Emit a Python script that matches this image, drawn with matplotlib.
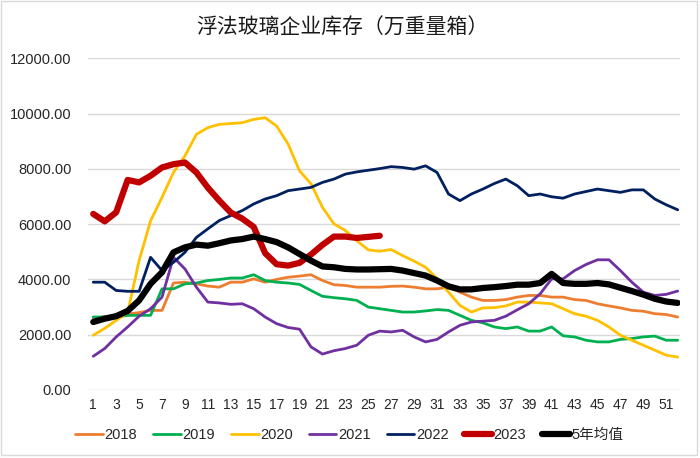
import numpy as np
import matplotlib
matplotlib.use('Agg')
import matplotlib.pyplot as plt
from matplotlib.patches import Rectangle

plt.rcParams['font.family'] = ['Liberation Sans', 'Noto Sans CJK SC', 'DejaVu Sans']

# 周次
weeks = np.arange(1, 53)

# 各年库存（万重量箱）
y2018 = [2600, 2650, 2700, 2750, 2800, 2880, 2880, 3870, 3900, 3840, 3760, 3720, 3900,
         3900, 4020, 3900, 4000, 4080, 4120, 4170, 3960, 3810, 3780, 3720, 3720, 3720,
         3750, 3760, 3720, 3660, 3660, 3720, 3540, 3360, 3240, 3240, 3270, 3360, 3420,
         3420, 3360, 3360, 3270, 3240, 3120, 3040, 2970, 2880, 2850, 2760, 2730, 2640]
y2019 = [2640, 2640, 2640, 2700, 2700, 2700, 3660, 3660, 3840, 3870, 3960, 4000, 4050,
         4050, 4170, 3960, 3900, 3870, 3820, 3600, 3390, 3340, 3300, 3240, 3000, 2940,
         2880, 2820, 2820, 2860, 2910, 2880, 2700, 2520, 2430, 2280, 2220, 2280, 2130,
         2130, 2280, 1960, 1920, 1800, 1740, 1740, 1830, 1860, 1920, 1950, 1800, 1800]
y2020 = [1980, 2230, 2520, 2800, 4680, 6120, 6970, 7870, 8470, 9250, 9490, 9610, 9640,
         9670, 9790, 9850, 9550, 8900, 7930, 7460, 6610, 6010, 5770, 5400, 5070, 5020,
         5080, 4860, 4660, 4440, 4030, 3540, 3060, 2820, 2970, 2980, 3040, 3180, 3180,
         3150, 3120, 2940, 2760, 2670, 2520, 2280, 1980, 1800, 1620, 1440, 1260, 1190]
y2021 = [1220, 1500, 1920, 2280, 2670, 2940, 3360, 4800, 4380, 3720, 3180, 3150, 3100,
         3120, 2940, 2640, 2400, 2260, 2200, 1560, 1300, 1420, 1500, 1620, 1980, 2130,
         2100, 2160, 1920, 1740, 1830, 2100, 2340, 2460, 2490, 2520, 2670, 2900, 3120,
         3480, 4020, 4020, 4320, 4540, 4710, 4710, 4320, 3900, 3540, 3420, 3460, 3580]
y2022 = [3900, 3900, 3600, 3570, 3570, 4800, 4320, 4620, 4980, 5520, 5830, 6130, 6310,
         6490, 6730, 6910, 7030, 7210, 7270, 7330, 7510, 7630, 7810, 7890, 7950, 8010,
         8080, 8050, 7990, 8110, 7870, 7090, 6850, 7090, 7270, 7470, 7630, 7390, 7030,
         7090, 6990, 6940, 7090, 7180, 7270, 7210, 7150, 7240, 7240, 6910, 6700, 6520]
y2023 = [6370, 6100, 6430, 7600, 7510, 7750, 8050, 8170, 8230, 7870, 7320, 6850, 6420,
         6200, 5900, 4950, 4550, 4500, 4600, 4900, 5250, 5550, 5550, 5500, 5540, 5580]
avg5 = [2460, 2580, 2670, 2860, 3240, 3840, 4260, 4980, 5160, 5260, 5220, 5310, 5410,
        5460, 5550, 5460, 5350, 5160, 4920, 4680, 4470, 4440, 4380, 4360, 4360, 4370,
        4380, 4320, 4230, 4140, 3960, 3750, 3640, 3640, 3690, 3720, 3760, 3810, 3810,
        3870, 4200, 3870, 3840, 3840, 3870, 3820, 3700, 3580, 3450, 3300, 3200, 3150]

series = [
    ('2018', y2018, '#ED7D31', 2.0),
    ('2019', y2019, '#00B050', 2.0),
    ('2020', y2020, '#FFC000', 2.0),
    ('2021', y2021, '#7030A0', 2.0),
    ('2022', y2022, '#002060', 2.0),
    ('2023', y2023, '#C00000', 4.5),
    ('5年均值', avg5, '#000000', 4.5),
]

fig = plt.figure(figsize=(7, 4.58), dpi=100)
ax = fig.add_axes([0.1257, 0.1485, 0.9714 - 0.1257, 0.8727 - 0.1485])

for name, vals, col, lw in series:
    ax.plot(weeks[:len(vals)], vals, color=col, lw=lw, label=name,
            solid_joinstyle='round', solid_capstyle='round')

ax.set_ylim(0, 12000)
ax.set_yticks(np.arange(0, 12001, 2000))
ax.set_yticklabels(['%.2f' % v for v in np.arange(0, 12001, 2000)])
ax.set_xlim(0.54, 52.2)
ax.set_xticks(np.arange(1, 52, 2))
ax.grid(axis='y', color='#d9d9d9', lw=1)
ax.set_axisbelow(True)
for s in ax.spines.values():
    s.set_visible(False)
ax.tick_params(axis='y', length=0, pad=12, labelsize=10.5, labelcolor='#262626')
ax.tick_params(axis='x', length=0, pad=6, labelsize=10, labelcolor='#262626')

fig.text(0.489, 0.939, '浮法玻璃企业库存（万重量箱）', ha='center', va='center',
         fontsize=15, color='#1a1a1a', fontweight='medium', family=['Noto Sans CJK SC'])

leg = fig.legend(loc='center', bbox_to_anchor=(0.499, 0.05), ncol=7, frameon=False,
                 fontsize=10.5, handlelength=1.9, handletextpad=0.1, columnspacing=1.1)
for t in leg.get_texts():
    t.set_color('#262626')

fig.patches.append(Rectangle((0.001, 1 - 455 / 458), 696 / 700, 454 / 458,
                             transform=fig.transFigure, fill=False,
                             edgecolor='#d9d9d9', lw=1))

fig.savefig('out.png', dpi=100)
